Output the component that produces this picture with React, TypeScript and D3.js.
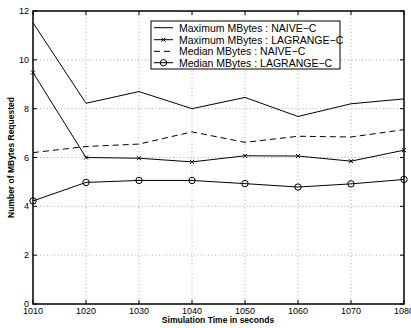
import React from "react";
import * as d3 from "d3";

const times = [1010, 1020, 1030, 1040, 1050, 1060, 1070, 1080];
const maxNaive = [11.52, 8.22, 8.7, 8.0, 8.46, 7.68, 8.2, 8.4];
const maxLagrange = [9.48, 6.0, 5.97, 5.82, 6.07, 6.06, 5.85, 6.3];
const medNaive = [6.2, 6.45, 6.55, 7.05, 6.62, 6.87, 6.84, 7.14];
const medLagrange = [4.22, 4.98, 5.06, 5.06, 4.93, 4.79, 4.92, 5.1];
const yTicks = [0, 2, 4, 6, 8, 10, 12];
const legendLabels = [
  "Maximum MBytes : NAIVE\u2212C",
  "Maximum MBytes : LAGRANGE\u2212C",
  "Median MBytes : NAIVE\u2212C",
  "Median MBytes : LAGRANGE\u2212C",
];

const W = 411;
const H = 328;
const left = 33;
const right = 404;
const top = 11;
const bottom = 304;
const font = "'Liberation Sans', Arial, Helvetica, sans-serif";

type Marker = "none" | "x" | "o";
const series: { values: number[]; dash?: string; marker: Marker }[] = [
  { values: maxNaive, marker: "none" },
  { values: maxLagrange, marker: "x" },
  { values: medNaive, dash: "6,4", marker: "none" },
  { values: medLagrange, marker: "o" },
];

function MarkerGlyph({ kind, x, y }: { kind: Marker; x: number; y: number }) {
  if (kind === "x") {
    const s = 2;
    return (
      <path
        d={`M${x - s},${y - s}L${x + s},${y + s}M${x - s},${y + s}L${x + s},${y - s}`}
        stroke="#000"
        strokeWidth={1}
      />
    );
  }
  if (kind === "o") {
    return <circle cx={x} cy={y} r={3.2} fill="none" stroke="#000" strokeWidth={1} />;
  }
  return null;
}

export default function App() {
  const x = d3.scaleLinear().domain([1010, 1080]).range([left, right]);
  const y = d3.scaleLinear().domain([0, 12]).range([bottom, top]);
  const line = d3
    .line<number>()
    .x((_, i) => x(times[i]))
    .y((d) => y(d));

  const legX = 151;
  const legY = 21;
  const legW = 189;
  const legH = 48;
  const rowY = [27.7, 39.7, 51.3, 62.7];

  return (
    <svg
      width={W}
      height={H}
      style={{ position: "absolute", left: 0, top: 0, background: "#fff" }}
    >
      <rect x={0} y={0} width={W} height={H} fill="#fff" />
      {/* grid */}
      <g stroke="#999" strokeWidth={0.8} strokeDasharray="1,2.5">
        {times.slice(1, -1).map((t) => (
          <line key={t} x1={x(t)} x2={x(t)} y1={top} y2={bottom} />
        ))}
        {yTicks.slice(1, -1).map((v) => (
          <line key={v} x1={left} x2={right} y1={y(v)} y2={y(v)} />
        ))}
      </g>
      {/* ticks */}
      <g stroke="#000" strokeWidth={1}>
        {times.map((t) => (
          <g key={t}>
            <line x1={x(t)} x2={x(t)} y1={bottom} y2={bottom - 4} />
            <line x1={x(t)} x2={x(t)} y1={top} y2={top + 4} />
          </g>
        ))}
        {yTicks.map((v) => (
          <g key={v}>
            <line x1={left} x2={left + 4} y1={y(v)} y2={y(v)} />
            <line x1={right} x2={right - 4} y1={y(v)} y2={y(v)} />
          </g>
        ))}
      </g>
      {/* series */}
      {series.map((s, k) => (
        <g key={k}>
          <path
            d={line(s.values) || ""}
            fill="none"
            stroke="#000"
            strokeWidth={1}
            strokeDasharray={s.dash}
          />
          {s.values.map((v, i) => (
            <MarkerGlyph key={i} kind={s.marker} x={x(times[i])} y={y(v)} />
          ))}
        </g>
      ))}
      {/* frame */}
      <rect
        x={left}
        y={top}
        width={right - left}
        height={bottom - top}
        fill="none"
        stroke="#000"
        strokeWidth={1.5}
      />
      {/* tick labels */}
      <g fontFamily={font} fontSize={9} fill="#000">
        {times.map((t) => (
          <text key={t} x={x(t)} y={bottom + 10} textAnchor="middle">
            {t}
          </text>
        ))}
        {yTicks.map((v) => (
          <text key={v} x={left - 4} y={y(v) + 3} textAnchor="end">
            {v}
          </text>
        ))}
      </g>
      {/* axis titles */}
      <text
        x={218}
        y={323}
        textAnchor="middle"
        fontFamily={font}
        fontSize={8.5}
        fontWeight="bold"
      >
        Simulation Time in seconds
      </text>
      <text
        transform={`translate(14,${(top + bottom) / 2}) rotate(-90)`}
        textAnchor="middle"
        fontFamily={font}
        fontSize={8.5}
        fontWeight="bold"
      >
        Number of MBytes Requested
      </text>
      {/* legend */}
      <rect x={legX} y={legY} width={legW} height={legH} fill="#fff" stroke="#000" strokeWidth={1} />
      {series.map((s, k) => (
        <g key={k}>
          <line
            x1={154}
            x2={173}
            y1={rowY[k]}
            y2={rowY[k]}
            stroke="#000"
            strokeWidth={1}
            strokeDasharray={s.dash}
          />
          <MarkerGlyph kind={s.marker} x={163.5} y={rowY[k]} />
          <text x={179} y={rowY[k] + 3.8} fontFamily={font} fontSize={10.5}>
            {legendLabels[k]}
          </text>
        </g>
      ))}
    </svg>
  );
}
